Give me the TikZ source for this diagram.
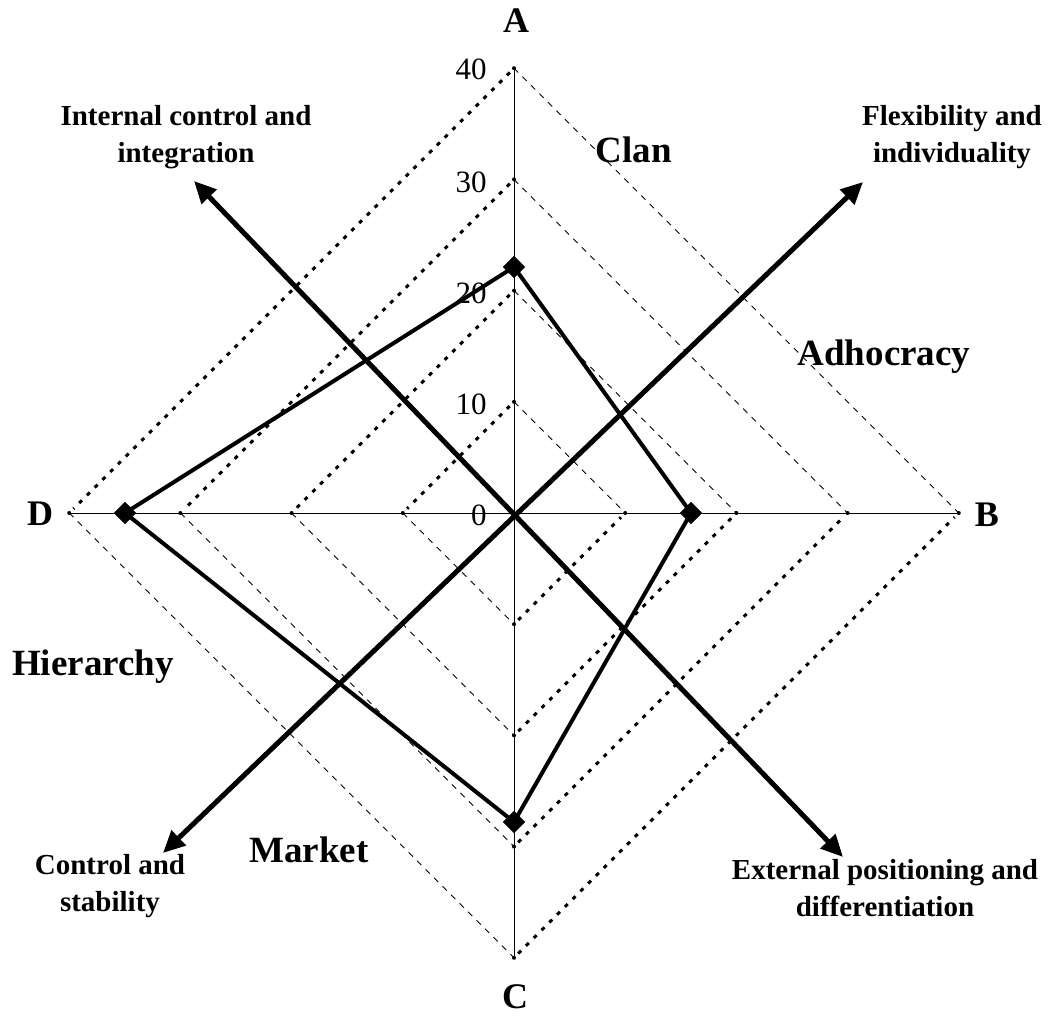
\documentclass[tikz,border=0pt]{standalone}
\usepackage{fontspec}
\setmainfont{Liberation Serif}
\usetikzlibrary{arrows.meta}
\begin{document}
\begin{tikzpicture}[x=0.5pt,y=-0.5pt,
  axisline/.style={line width=0.5pt},
  gridthin/.style={line width=0.45pt, dash pattern=on 3pt off 3pt},
  gridthick/.style={line width=1.5pt, dash pattern=on 2pt off 3.5pt, shorten <=3pt, shorten >=3pt},
  tickdot/.style={fill=black},
  profile/.style={line width=2pt, line join=miter},
  marker/.style={fill=black, draw=black, rotate=45, minimum size=7.5pt, inner sep=0pt},
  dirarrow/.style={line width=2.5pt, {Triangle[length=11pt,width=10pt]}-{Triangle[length=11pt,width=10pt]}},
  biglabel/.style={font=\fontsize{18.5}{22}\selectfont\bfseries},
  smalllabel/.style={font=\fontsize{14.5}{18.5}\selectfont\bfseries, align=center},
  axislabel/.style={font=\fontsize{18}{20}\selectfont\bfseries, inner sep=0pt},
  numlabel/.style={font=\fontsize{15.5}{17}\selectfont, anchor=east, inner sep=0pt}
]
\useasboundingbox (0,0) rectangle (1057,1017);
\coordinate (O) at (514,513);
\foreach \L in {1,2,3,4} {
  \pgfmathsetmacro\r{111.2*\L}
  \coordinate (A\L) at (514,513-\r);
  \coordinate (B\L) at (514+\r,513);
  \coordinate (C\L) at (514,513+\r);
  \coordinate (D\L) at (514-\r,513);
}
% grid
\foreach \L in {1,2,3,4} {
  \draw[gridthin] (A\L) -- (B\L);
  \draw[gridthin] (D\L) -- (C\L);
  \draw[gridthick] (A\L) -- (D\L);
  \draw[gridthick] (C\L) -- (B\L);
}
% axes
\draw[axisline] (A4) -- (C4);
\draw[axisline] (D4) -- (B4);
\foreach \L in {1,2,3,4} {
  \fill[tickdot] (A\L) circle (1pt);
  \fill[tickdot] (B\L) circle (1pt);
  \fill[tickdot] (C\L) circle (1pt);
  \fill[tickdot] (D\L) circle (1pt);
}
% scale numbers
\node[numlabel] (n40) at (487,69) {40};
\node[numlabel] (n30) at (487,182) {30};
\node[numlabel] (n20) at (487,293) {20};
\node[numlabel] (n10) at (487,404) {10};
\node[numlabel] (n0) at (487,515) {0};
% direction arrows
\coordinate (tUL) at (194,181);
\coordinate (tDR) at (843,857);
\coordinate (tUR) at (863,182);
\coordinate (tDL) at (163,853);
\draw[dirarrow] (tUL) -- (tDR);
\draw[dirarrow] (tDL) -- (tUR);
% profile
\coordinate (cA) at (514,267);
\coordinate (cB) at (691,513);
\coordinate (cC) at (514,822);
\coordinate (cD) at (125,513);
\draw[profile] (cA) -- (cB) -- (cC) -- (cD) -- cycle;
\node[marker] (pA) at (cA) {};
\node[marker] (pB) at (cB) {};
\node[marker] (pC) at (cC) {};
\node[marker] (pD) at (cD) {};
% axis letters
\node[axislabel] (lA) at (516,21) {A};
\node[axislabel] (lB) at (987,515) {B};
\node[axislabel] (lC) at (515,997) {C};
\node[axislabel] (lD) at (40,514) {D};
% culture labels
\node[biglabel] (clan) at (634,150) {Clan};
\node[biglabel] (adh) at (884,357) {Adhocracy};
\node[biglabel] (hier) at (93,667) {Hierarchy};
\node[biglabel] (mkt) at (309,850) {Market};
% direction labels
\node[smalllabel] (int) at (186,137) {Internal control and\\integration};
\node[smalllabel] (flex) at (952,137) {Flexibility and\\individuality};
\node[smalllabel] (ctrl) at (110,886) {Control and\\stability};
\node[smalllabel] (ext) at (885,888) {External positioning and\\differentiation};
\end{tikzpicture}
\end{document}
